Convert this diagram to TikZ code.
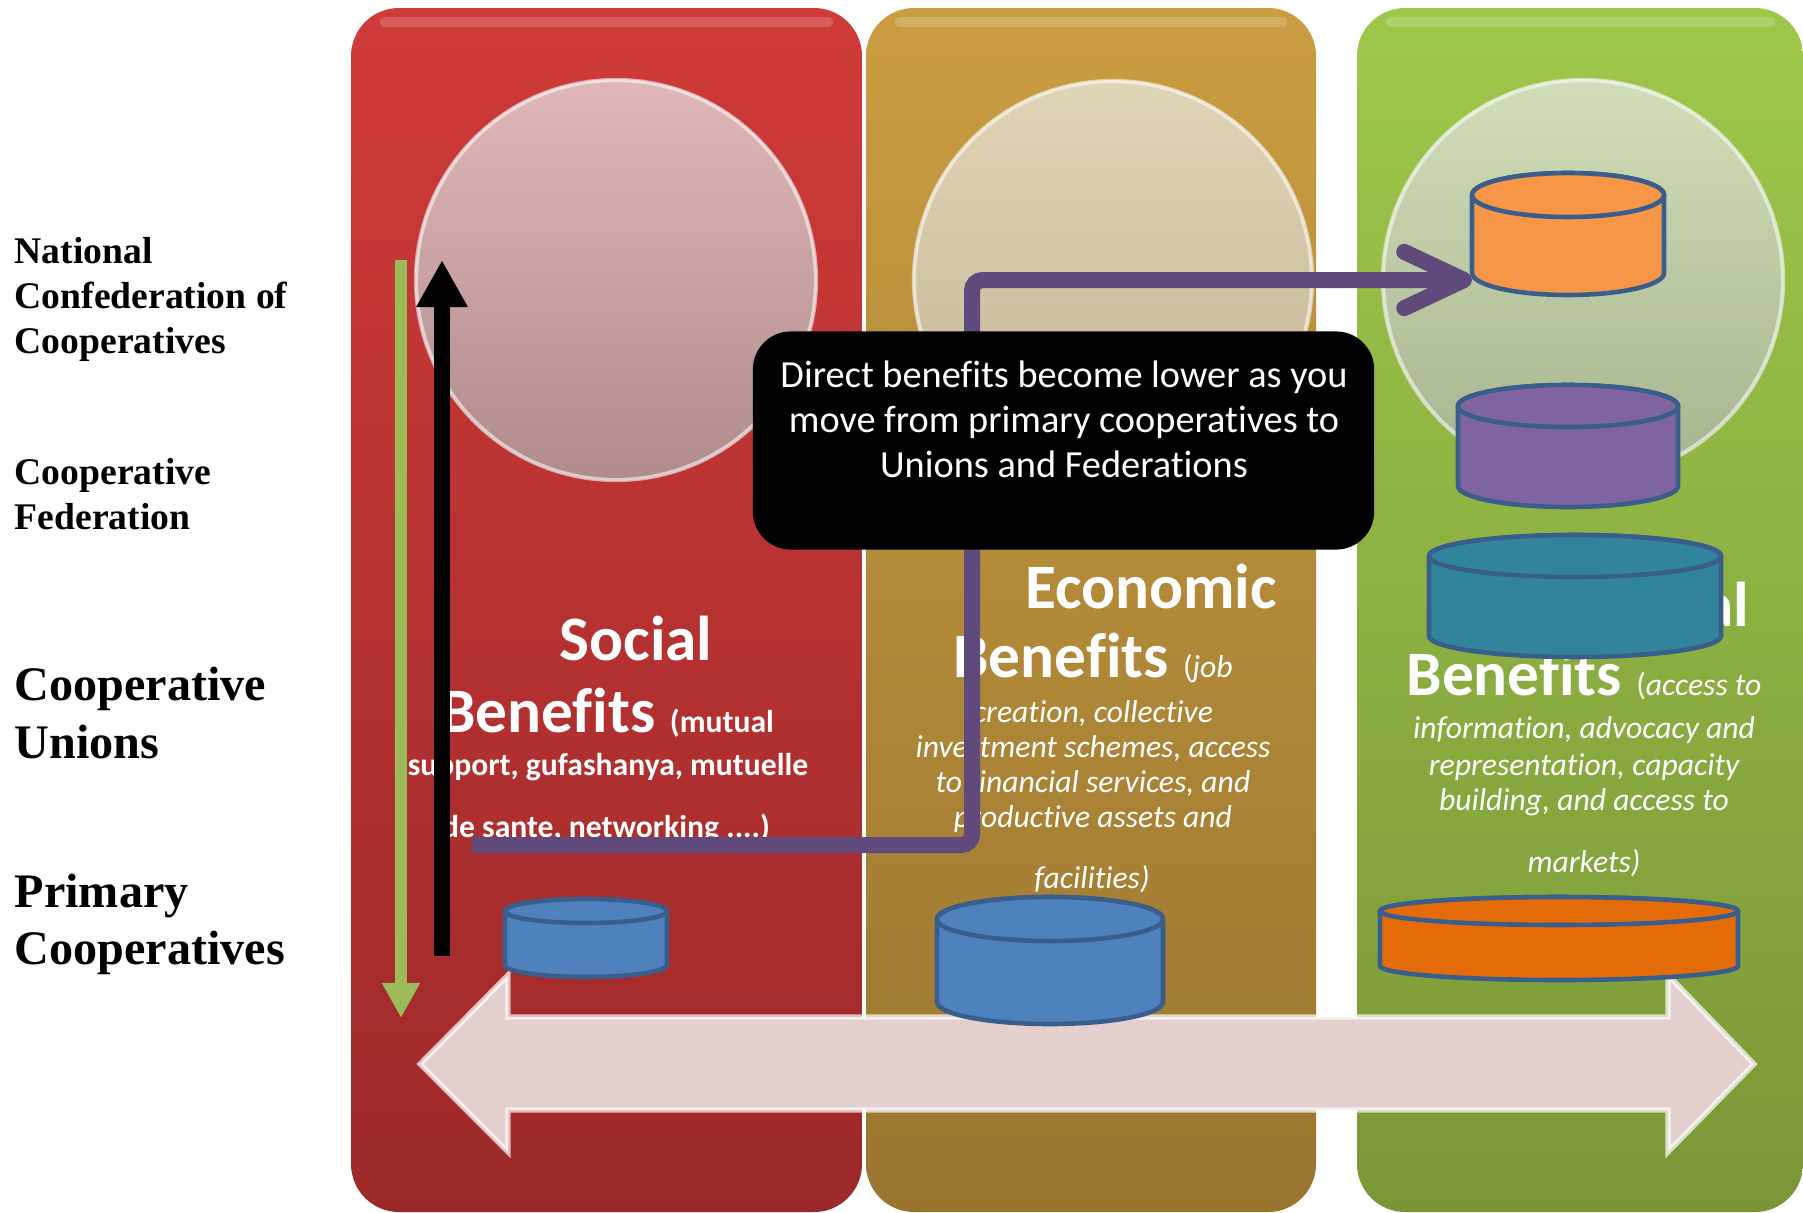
\documentclass[tikz,border=0pt]{standalone}
\usepackage{fontspec}
\setmainfont{Liberation Serif}
\newfontfamily\calib[Ligatures=NoCommon]{Carlito}
\usetikzlibrary{arrows.meta}
\definecolor{redT}{HTML}{CF3B39}
\definecolor{redB}{HTML}{9C2929}
\definecolor{goldT}{HTML}{CA9D41}
\definecolor{goldB}{HTML}{997530}
\definecolor{grnT}{HTML}{9EC84B}
\definecolor{grnB}{HTML}{7A9738}
\definecolor{rcT}{HTML}{E1B7B9}
\definecolor{rcB}{HTML}{AF8B8B}
\definecolor{gcT}{HTML}{E0D5B6}
\definecolor{gcB}{HTML}{C2B494}
\definecolor{ncT}{HTML}{D1DEB9}
\definecolor{ncB}{HTML}{A6B48E}
\definecolor{cblue}{HTML}{4F81BD}
\definecolor{cedge}{HTML}{3A5E8C}
\definecolor{corange}{HTML}{F79646}
\definecolor{cpurple}{HTML}{8064A2}
\definecolor{cteal}{HTML}{31849B}
\definecolor{cdorange}{HTML}{E36C09}
\definecolor{linkpurple}{HTML}{604A7B}
\definecolor{arrgreen}{HTML}{9BBB59}
\definecolor{arrpink}{HTML}{E5D0D0}
\newcommand\hdfont{\fontsize{18}{20}\selectfont\bfseries}
\newcommand\smfont{\fontsize{9}{10}\selectfont}
% #1 name, #2 cx, #3 top-centre y, #4 bottom-centre y, #5 rx, #6 ry, #7 colour
\newcommand\cylinderat[7]{%
  \filldraw[fill=#7, draw=cedge, line width=1.3pt, line join=round]
    (#2-#5,-#3) -- (#2-#5,-#4) arc[start angle=180, end angle=360, x radius=#5, y radius=#6]
    -- (#2+#5,-#3) arc[start angle=0, end angle=180, x radius=#5, y radius=#6] -- cycle;
  \filldraw[fill=#7, draw=cedge, line width=1.3pt] (#2,-#3) ellipse [x radius=#5, y radius=#6];
  \coordinate (#1) at (#2,-#3);
}
\begin{document}
\begin{tikzpicture}[x=0.01cm,y=0.01cm,
  lbls/.style={anchor=base west, inner sep=0pt, font=\fontsize{10.7}{12.8}\selectfont\bfseries},
  lbll/.style={anchor=base west, inner sep=0pt, font=\fontsize{13.7}{16.5}\selectfont\bfseries},
  ptxt/.style={anchor=base, inner sep=0pt, text=white, font=\calib},
  itxt/.style={ptxt, font=\calib\smfont\itshape},
  mtxt/.style={anchor=base, inner sep=0pt, text=white, font=\calib\fontsize{10.9}{12.8}\selectfont},
  panelgloss/.style={white, opacity=0.18, line width=3pt, line cap=round},
  rim/.style={white, opacity=0.55, line width=1.2pt}]
\useasboundingbox (0,0) rectangle (1803,-1212);
\fill[white] (0,0) rectangle (1803,-1212);

% panels
\shade[top color=redT, bottom color=redB, rounded corners=0.48cm] (351,-8) rectangle (862,-1212);
\shade[top color=goldT, bottom color=goldB, rounded corners=0.48cm] (866,-8) rectangle (1316,-1212);
\shade[top color=grnT, bottom color=grnB, rounded corners=0.48cm] (1357,-8) rectangle (1803,-1212);
\draw[panelgloss] (385,-22) -- (828,-22);
\draw[panelgloss] (900,-22) -- (1282,-22);
\draw[panelgloss] (1391,-22) -- (1770,-22);

% circles
\shade[top color=rcT, bottom color=rcB] (616,-280) circle[radius=201];
\draw[rim] (616,-280) circle[radius=200];
\shade[top color=gcT, bottom color=gcB] (1113,-280) circle[radius=200];
\draw[rim] (1113,-280) circle[radius=199];
\shade[top color=ncT, bottom color=ncB] (1583,-280) circle[radius=201];
\draw[rim] (1583,-280) circle[radius=200];

% left labels
\node[lbls] (L1) at (14,-263) {National};
\node[lbls] (L2) at (14,-308) {Confederation of};
\node[lbls] (L3) at (14,-353) {Cooperatives};
\node[lbls] (L4) at (14,-484) {Cooperative};
\node[lbls] (L5) at (14,-529) {Federation};
\node[lbll] (L6) at (14,-700) {Cooperative};
\node[lbll] (L7) at (14,-758) {Unions};
\node[lbll] (L8) at (14,-907) {Primary};
\node[lbll] (L9) at (14,-964) {Cooperatives};

% social
\node[ptxt] (s1) at (636,-660) {\hdfont Social};
\node[ptxt] (s2) at (607,-732) {\hdfont Benefits {\smfont (mutual}};
\node[ptxt] (s3) at (608,-775) {\smfont\bfseries support, gufashanya, mutuelle};
\node[ptxt] (s4) at (606,-837) {\smfont\bfseries de sante, networking ....)};

% economic
\node[ptxt] (e1) at (1151,-608) {\hdfont Economic};
\node[ptxt] (e2) at (1093,-677) {\hdfont Benefits {\smfont\mdseries (\textit{job}}};
\node[itxt] (e3) at (1093,-722) {creation, collective};
\node[itxt] (e4) at (1093,-757) {investment schemes, access};
\node[itxt] (e5) at (1093,-792) {to financial services, and};
\node[itxt] (e6) at (1093,-827) {productive assets and};
\node[itxt] (e7) at (1092,-888) {facilities)};

% green panel
\node[ptxt, anchor=base east] (g1) at (1750,-626) {\hdfont al};
\node[ptxt] (g2) at (1584,-695) {\hdfont Benefits {\smfont\mdseries (\textit{access to}}};
\node[itxt] (g3) at (1584,-738) {information, advocacy and};
\node[itxt] (g4) at (1584,-775) {representation, capacity};
\node[itxt] (g5) at (1584,-810) {building, and access to};
\node[itxt] (g6) at (1584,-872) {markets)};

% double arrow
\filldraw[fill=arrpink, draw=white, draw opacity=0.7, line width=1.5pt]
  (420,-1064) -- (508,-975) -- (508,-1017) -- (1668,-1017) -- (1668,-975) -- (1754,-1064)
  -- (1668,-1152) -- (1668,-1110) -- (508,-1110) -- (508,-1152) -- cycle;

% cylinders
\cylinderat{cylRed}{586}{911}{965}{81}{12}{cblue}
\cylinderat{cylGold}{1050}{919}{1002}{113}{22}{cblue}
\cylinderat{cylGreen}{1559}{911}{966}{179}{14}{cdorange}
\cylinderat{cylTeal}{1575}{556}{636}{146}{21}{cteal}
\cylinderat{cylPurple}{1568}{406}{486}{110}{21}{cpurple}
\cylinderat{cylOrange}{1568}{195}{273}{96}{22}{corange}

% vertical arrows
\coordinate (gtop) at (401,-260);
\coordinate (gbot) at (401,-1018);
\coordinate (kbot) at (442,-956);
\coordinate (ktop) at (442,-260);
\draw[arrgreen, line width=3.4pt, -{Triangle[length=10pt,width=10.2pt]}] (gtop) -- (gbot);
\draw[black, line width=4.55pt, -{Triangle[length=13.4pt,width=13.7pt]}] (kbot) -- (ktop);

% purple connector
\coordinate (pstart) at (472,-845);
\coordinate (pturn) at (972,-280);
\coordinate (ptip) at (1472,-280);
\draw[linkpurple, line width=4.55pt, rounded corners=3pt,
  -{Straight Barb[length=17pt,width=16pt,round]}] (pstart) -| (pturn) -- (ptip);

% message box
\node[fill=black, rounded corners=0.38cm, minimum width=6.21cm, minimum height=2.18cm, inner sep=0pt] (msg) at (1063.5,-440.5) {};
\node[mtxt] (m1) at (1064,-387) {Direct benefits become lower as you};
\node[mtxt] (m2) at (1064,-432) {move from primary cooperatives to};
\node[mtxt] (m3) at (1064,-477) {Unions and Federations};
\end{tikzpicture}
\end{document}
